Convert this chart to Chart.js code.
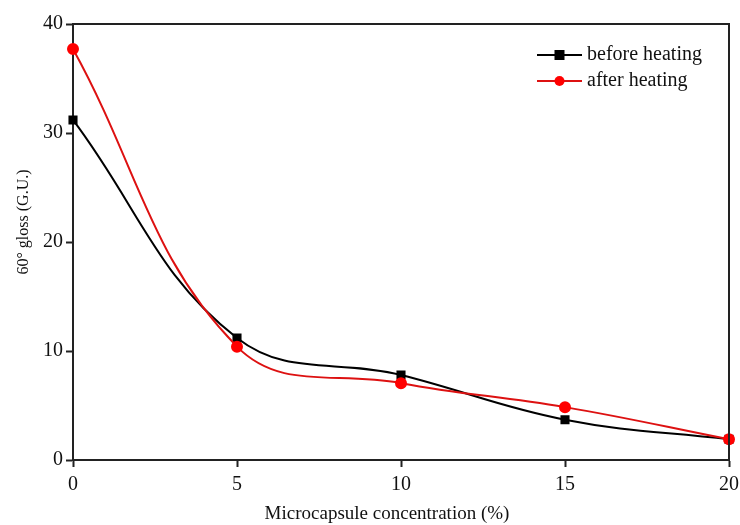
<!DOCTYPE html>
<html>
<head>
<meta charset="utf-8">
<script src="https://cdn.jsdelivr.net/npm/chart.js@4"></script>
<style>
  html, body { margin: 0; padding: 0; background: #fff; }
  #wrap { width: 740px; height: 525px; }
</style>
</head>
<body>
<div id="wrap"><canvas id="glossChart"></canvas></div>
<script>
// concentration of microcapsules (%)
const concentrations = [0, 5, 10, 15, 20];
// 60 degree gloss readings
const beforeHeating = [31.2, 11.2, 7.8, 3.7, 1.9];
const afterHeating = [37.7, 10.4, 7.05, 4.85, 1.9];
const yTicks = [0, 10, 20, 30, 40];
const xTicks = [0, 5, 10, 15, 20];
const xTitle = 'Microcapsule concentration (%)';
const yTitle = '60° gloss (G.U.)';

const serif = "'Liberation Serif', 'Times New Roman', serif";
const axisColor = '#222';

// box on top and right, axis titles, and the legend with line + marker
const framePlugin = {
  id: 'frame',
  afterDraw(chart) {
    const { ctx, chartArea } = chart;
    ctx.save();
    ctx.strokeStyle = axisColor;
    ctx.lineWidth = 2;
    ctx.beginPath();
    ctx.moveTo(chartArea.left, chartArea.top);
    ctx.lineTo(chartArea.right, chartArea.top);
    ctx.lineTo(chartArea.right, chartArea.bottom);
    ctx.stroke();

    // axis titles
    ctx.fillStyle = '#111';
    ctx.textAlign = 'center';
    ctx.textBaseline = 'middle';
    ctx.font = '19px ' + serif;
    ctx.fillText(xTitle, 387, 514);
    ctx.save();
    ctx.translate(24, 222);
    ctx.rotate(-Math.PI / 2);
    ctx.font = '16px ' + serif;
    ctx.fillText(yTitle, 0, 0);
    ctx.restore();

    // legend
    ctx.textAlign = 'left';
    ctx.font = '20px ' + serif;
    chart.data.datasets.forEach((ds, i) => {
      const y = 55 + i * 26;
      const x0 = 537;
      ctx.strokeStyle = ds.borderColor;
      ctx.lineWidth = 2;
      ctx.beginPath();
      ctx.moveTo(x0, y);
      ctx.lineTo(x0 + 45, y);
      ctx.stroke();
      ctx.fillStyle = ds.pointBackgroundColor;
      if (ds.pointStyle === 'rect') {
        ctx.fillRect(x0 + 22.5 - 5, y - 5, 10, 10);
      } else {
        ctx.beginPath();
        ctx.arc(x0 + 22.5, y, 5, 0, Math.PI * 2);
        ctx.fill();
      }
      ctx.fillStyle = '#111';
      ctx.fillText(ds.label, x0 + 50, y);
    });
    ctx.restore();
  }
};

new Chart(document.getElementById('glossChart'), {
  type: 'line',
  data: {
    datasets: [
      {
        label: 'before heating',
        data: concentrations.map((c, i) => ({ x: c, y: beforeHeating[i] })),
        borderColor: '#000',
        pointBackgroundColor: '#000',
        pointBorderColor: '#000',
        pointStyle: 'rect',
        pointRadius: 5,
        borderWidth: 2,
        tension: 0.4,
        clip: false,
        order: 1
      },
      {
        label: 'after heating',
        data: concentrations.map((c, i) => ({ x: c, y: afterHeating[i] })),
        borderColor: '#dd1111',
        pointBackgroundColor: '#ff0000',
        pointBorderColor: '#ff0000',
        pointStyle: 'circle',
        pointRadius: 5,
        borderWidth: 2,
        tension: 0.4,
        clip: false,
        order: 0
      }
    ]
  },
  options: {
    responsive: true,
    maintainAspectRatio: false,
    animation: false,
    layout: { padding: { top: 24, right: 11, left: 0, bottom: 0 } },
    plugins: {
      legend: { display: false },
      tooltip: { enabled: false }
    },
    scales: {
      x: {
        type: 'linear',
        min: 0,
        max: 20,
        afterBuildTicks: scale => { scale.ticks = xTicks.map(v => ({ value: v })); },
        afterFit: scale => {
          scale.height = 65;
          scale.paddingLeft = 0;
          scale.paddingRight = 0;
        },
        grid: { drawOnChartArea: false, tickLength: 7, tickColor: axisColor, tickWidth: 2 },
        border: { color: axisColor, width: 2 },
        ticks: { color: '#111', font: { family: serif, size: 20 }, padding: 6, maxRotation: 0 }
      },
      y: {
        min: 0,
        max: 40,
        afterBuildTicks: scale => { scale.ticks = yTicks.map(v => ({ value: v })); },
        afterFit: scale => {
          scale.width = 73;
          scale.paddingTop = 0;
          scale.paddingBottom = 0;
        },
        grid: { drawOnChartArea: false, tickLength: 7, tickColor: axisColor, tickWidth: 2 },
        border: { color: axisColor, width: 2 },
        ticks: { color: '#111', font: { family: serif, size: 20 }, padding: 3 }
      }
    }
  },
  plugins: [framePlugin]
});
</script>
</body>
</html>
